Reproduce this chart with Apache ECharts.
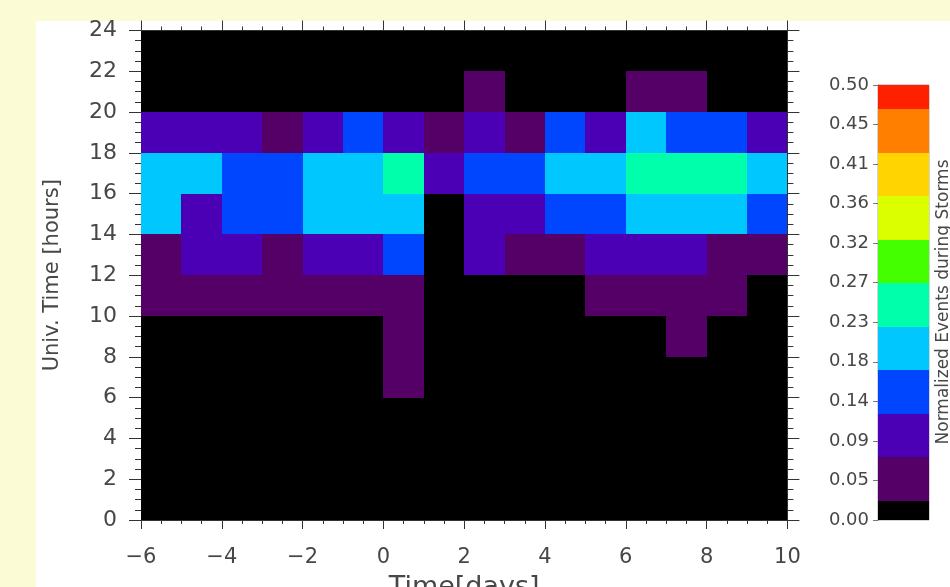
<!DOCTYPE html>
<html>
<head>
<meta charset="utf-8">
<script src="https://cdn.jsdelivr.net/npm/echarts@6/dist/echarts.min.js"></script>
<style>
  html, body { margin: 0; padding: 0; background: #fbfbd5; }
  #chart { width: 950px; height: 587px; }
</style>
</head>
<body>
<div id="chart"></div>
<script>
// bin starts: 1-day bins on x, 2-hour UT bins on y
const days = [-6, -5, -4, -3, -2, -1, 0, 1, 2, 3, 4, 5, 6, 7, 8, 9];
const hours = [0, 2, 4, 6, 8, 10, 12, 14, 16, 18, 20, 22];

// normalized events per bin, one array per UT bin (columns follow `days`)
const ut00 = [0, 0, 0, 0, 0, 0, 0, 0, 0, 0, 0, 0, 0, 0, 0, 0];
const ut02 = [0, 0, 0, 0, 0, 0, 0, 0, 0, 0, 0, 0, 0, 0, 0, 0];
const ut04 = [0, 0, 0, 0, 0, 0, 0, 0, 0, 0, 0, 0, 0, 0, 0, 0];
const ut06 = [0, 0, 0, 0, 0, 0, 0.05, 0, 0, 0, 0, 0, 0, 0, 0, 0];
const ut08 = [0, 0, 0, 0, 0, 0, 0.05, 0, 0, 0, 0, 0, 0, 0.05, 0, 0];
const ut10 = [0.05, 0.05, 0.05, 0.05, 0.05, 0.05, 0.05, 0, 0, 0, 0, 0.05, 0.05, 0.05, 0.05, 0];
const ut12 = [0.05, 0.10, 0.10, 0.05, 0.10, 0.10, 0.15, 0, 0.10, 0.05, 0.05, 0.10, 0.10, 0.10, 0.05, 0.05];
const ut14 = [0.20, 0.10, 0.15, 0.15, 0.20, 0.20, 0.20, 0, 0.10, 0.10, 0.15, 0.15, 0.20, 0.20, 0.20, 0.15];
const ut16 = [0.20, 0.20, 0.15, 0.15, 0.20, 0.20, 0.25, 0.10, 0.15, 0.15, 0.20, 0.20, 0.25, 0.25, 0.25, 0.20];
const ut18 = [0.10, 0.10, 0.10, 0.05, 0.10, 0.15, 0.10, 0.05, 0.10, 0.05, 0.15, 0.10, 0.20, 0.15, 0.15, 0.10];
const ut20 = [0, 0, 0, 0, 0, 0, 0, 0, 0.05, 0, 0, 0, 0.05, 0.05, 0, 0];
const ut22 = [0, 0, 0, 0, 0, 0, 0, 0, 0, 0, 0, 0, 0, 0, 0, 0];
const rows = [ut00, ut02, ut04, ut06, ut08, ut10, ut12, ut14, ut16, ut18, ut20, ut22];

// colour table levels and colorbar tick labels
const levelEdges = [0, 0.022, 0.072, 0.122, 0.172, 0.222, 0.272, 0.322, 0.372, 0.422, 0.472, 0.5];
const levelColors = ['#000000', '#550066', '#4b00b6', '#0046ff', '#00c8ff', '#00ffaa',
                     '#44ff00', '#dcff00', '#ffd400', '#ff8000', '#ff2000'];
const cbLabels = ['0.00', '0.05', '0.09', '0.14', '0.18', '0.23', '0.27', '0.32', '0.36', '0.41', '0.45', '0.50'];

const cbScale = (cbLabels.length - 1) / 0.5;   // value -> colorbar axis units

function colorFor(v) {
    for (let i = 0; i < levelColors.length; i++) {
        if (v < levelEdges[i + 1]) return levelColors[i];
    }
    return levelColors[levelColors.length - 1];
}

const cells = [];
rows.forEach(function (row, j) {
    row.forEach(function (v, i) {
        cells.push([days[i], hours[j], v]);
    });
});
const cbData = levelColors.map(function (c, i) {
    return [levelEdges[i] * cbScale, levelEdges[i + 1] * cbScale, i];
});

const font = 'DejaVu Sans';
const txt = '#474747';
const axisCol = '#333';
const minus = function (v) { return v < 0 ? '\u2212' + Math.abs(v) : String(v); };

// rectangle between two data corners, snapped to whole pixels so cells abut
function cellRect(api, xa, ya, xb, yb, fill) {
    const p0 = api.coord([xa, ya]);
    const p1 = api.coord([xb, yb]);
    const x0 = Math.round(p0[0]), y0 = Math.round(p0[1]);
    const x1 = Math.round(p1[0]), y1 = Math.round(p1[1]);
    return {
        type: 'rect',
        shape: { x: x0, y: y0, width: x1 - x0, height: y1 - y0 },
        style: { fill: fill }
    };
}

const chart = echarts.init(document.getElementById('chart'));
chart.setOption({
    backgroundColor: '#fbfbd5',
    animation: false,
    graphic: [
        { type: 'rect', z: -10, shape: { x: 36, y: 21, width: 914, height: 566 }, style: { fill: '#ffffff' } },
        { type: 'text', x: 944, y: 302, rotation: Math.PI / 2,
          style: { text: 'Normalized Events during Storms', font: '17px "DejaVu Sans"', fill: txt,
                   textAlign: 'center', textVerticalAlign: 'middle' } }
    ],
    grid: [
        { left: 141, right: 162.6, top: 30.5, bottom: 67, outerBoundsMode: 'none' },
        { left: 878, width: 51, top: 85, bottom: 67, outerBoundsMode: 'none',
          show: true, borderColor: '#aaa', borderWidth: 1 }
    ],
    xAxis: [
        {
            gridIndex: 0, type: 'value', min: -6, max: 10, interval: 2, position: 'bottom',
            axisLine: { onZero: false, lineStyle: { color: axisCol } },
            axisTick: { length: 9, lineStyle: { color: axisCol } },
            minorTick: { show: true, splitNumber: 4, length: 4, lineStyle: { color: axisCol } },
            splitLine: { show: false },
            axisLabel: { margin: 27, fontSize: 21, fontFamily: font, color: txt, formatter: minus },
            name: 'Time[days]', nameLocation: 'middle', nameGap: 54,
            nameTextStyle: { fontSize: 27, fontFamily: font, color: txt }
        },
        {
            gridIndex: 0, type: 'value', min: -6, max: 10, interval: 2, position: 'top',
            axisLine: { onZero: false, lineStyle: { color: axisCol } },
            axisTick: { length: 10, lineStyle: { color: axisCol } },
            minorTick: { show: true, splitNumber: 4, length: 4, lineStyle: { color: axisCol } },
            splitLine: { show: false },
            axisLabel: { show: false }
        },
        {
            gridIndex: 1, type: 'value', min: 0, max: 1, show: false
        }
    ],
    yAxis: [
        {
            gridIndex: 0, type: 'value', min: 0, max: 24, interval: 2, position: 'left',
            axisLine: { onZero: false, lineStyle: { color: axisCol } },
            axisTick: { length: 12, lineStyle: { color: axisCol } },
            minorTick: { show: true, splitNumber: 4, length: 6, lineStyle: { color: axisCol } },
            splitLine: { show: false },
            axisLabel: { margin: 24, fontSize: 22, fontFamily: font, color: txt },
            name: 'Univ. Time [hours]', nameLocation: 'middle', nameGap: 78,
            nameTextStyle: { fontSize: 21, fontFamily: font, color: txt }
        },
        {
            gridIndex: 0, type: 'value', min: 0, max: 24, interval: 2, position: 'right',
            axisLine: { onZero: false, lineStyle: { color: axisCol } },
            axisTick: { length: 12, lineStyle: { color: axisCol } },
            minorTick: { show: true, splitNumber: 4, length: 6, lineStyle: { color: axisCol } },
            splitLine: { show: false },
            axisLabel: { show: false }
        },
        {
            gridIndex: 1, type: 'value', min: 0, max: cbLabels.length - 1, interval: 1, position: 'left',
            axisLine: { onZero: false, lineStyle: { color: '#777' } },
            axisTick: { length: 5, lineStyle: { color: '#777' } },
            splitLine: { show: false },
            axisLabel: { margin: 9, fontSize: 18, fontFamily: font, color: txt,
                         formatter: function (v) { return cbLabels[v]; } }
        }
    ],
    series: [
        {
            type: 'custom', xAxisIndex: 0, yAxisIndex: 0, data: cells,
            renderItem: function (params, api) {
                const x = api.value(0), y = api.value(1);
                return cellRect(api, x, y + 2, x + 1, y, colorFor(api.value(2)));
            }
        },
        {
            type: 'custom', xAxisIndex: 2, yAxisIndex: 2, data: cbData,
            renderItem: function (params, api) {
                return cellRect(api, 0, api.value(1), 1, api.value(0), levelColors[api.value(2)]);
            }
        }
    ]
});
</script>
</body>
</html>
